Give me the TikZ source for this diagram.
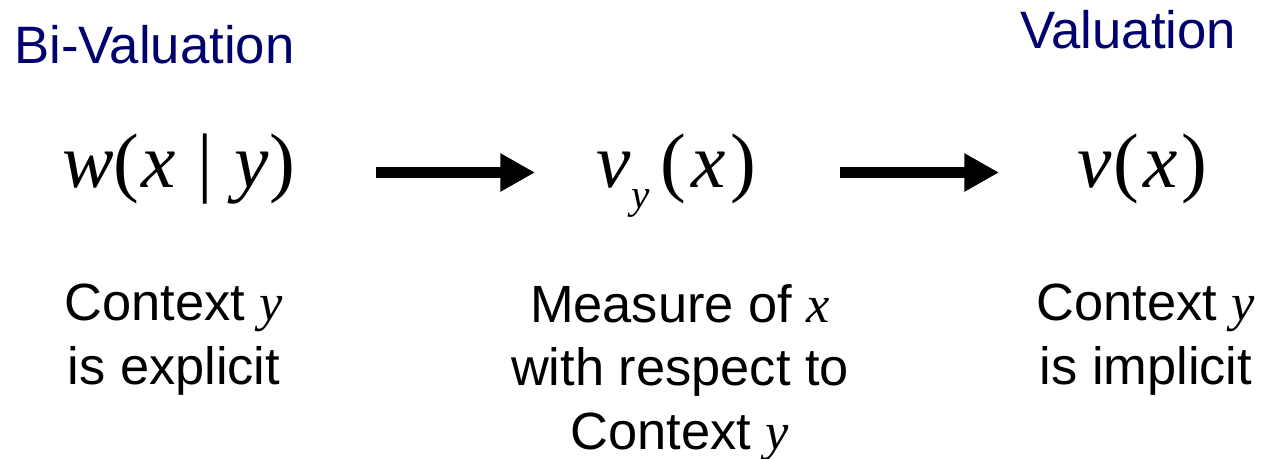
\documentclass[tikz,border=0pt]{standalone}
\usepackage{fontspec}
\setmainfont{Liberation Sans}
\newfontfamily\tms{Liberation Serif}
\usetikzlibrary{arrows.meta}
\definecolor{navy}{RGB}{0,0,110}
\newcommand{\vi}[1]{{\tms\itshape #1}}
\begin{document}
\begin{tikzpicture}[x=0.75pt,y=-0.75pt,
  title/.style={font=\fontsize{39.5}{47}\selectfont, text=navy, inner sep=0, anchor=base west},
  formula/.style={font=\fontsize{58}{62}\selectfont\tms, inner sep=0, anchor=base west},
  caption/.style={font=\fontsize{39.3}{47.6}\selectfont, align=center, inner sep=0, anchor=north},
  bigarrow/.style={line width=8.25pt, -{Triangle[length=26pt,width=27pt]}}]
\useasboundingbox (0,0) rectangle (1262,458);

\node[title] (bival) at (14,63) {Bi-Valuation};
\node[title] (val) at (1020,48) {Valuation};

\node[formula] (w) at (62,187) {\itshape w\upshape(\kern1.5pt\itshape x\kern16pt\upshape|\kern16pt\itshape y\kern1pt\upshape)};
\node[formula] (vy) at (596,187) {\itshape v\kern 1pt\raisebox{-16pt}{\fontsize{31}{31}\selectfont y}\kern 8pt\upshape(\kern3.5pt\itshape x\kern3.5pt\upshape)};
\node[formula] (v) at (1077,187) {\itshape v\kern1.5pt\upshape(\kern3pt\itshape x\kern3pt\upshape)};

\coordinate (a1s) at (376,172.5);
\coordinate (a1e) at (535,172.5);
\coordinate (a2s) at (840,172.5);
\coordinate (a2e) at (999,172.5);
\draw[bigarrow] (a1s) -- (a1e);
\draw[bigarrow] (a2s) -- (a2e);

\node[caption] (c1) at (174,284) {Context \vi{y}\\is explicit};
\node[caption] (c2) at (680,284) {Measure of \vi{x}\\with respect to\\Context \vi{y}};
\node[caption] (c3) at (1146,284) {Context \vi{y}\\is implicit};
\end{tikzpicture}
\end{document}
